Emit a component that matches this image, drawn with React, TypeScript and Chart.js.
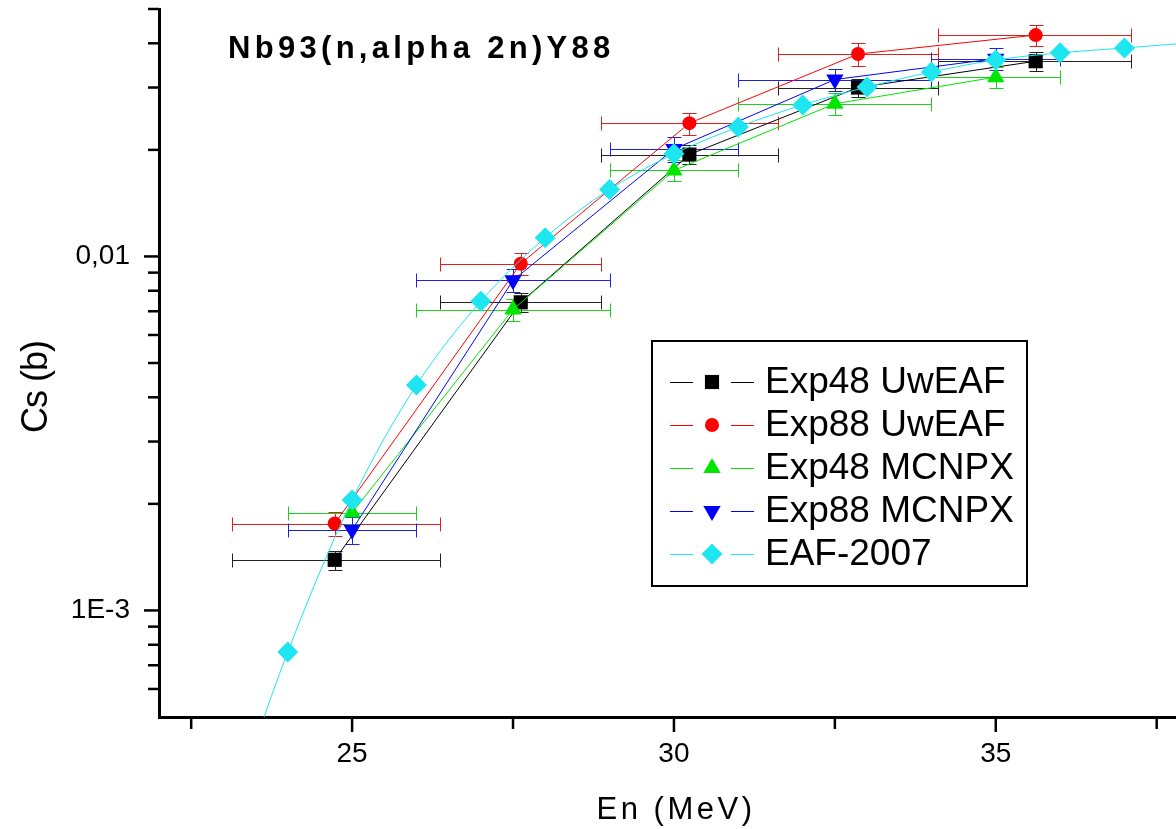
import React, { useEffect, useRef } from 'react';
import { Chart, registerables } from 'chart.js';

Chart.register(...registerables);

const FONT = '"Liberation Sans", Arial, Helvetica, sans-serif';

// ---- text ----
const chartTitle = 'Nb93(n,alpha 2n)Y88';
const xTitle = 'En (MeV)';
const yTitle = 'Cs (b)';
const seriesNames = ['Exp48 UwEAF', 'Exp88 UwEAF', 'Exp48 MCNPX', 'Exp88 MCNPX', 'EAF-2007'];

// ---- axes ----
const xMin = 22;
const xMax = 37.8;
const yMin = 5e-4;
const yMax = 0.05;
const xMajorTicks = [25, 30, 35];
const xMinorTicks = [22.5, 27.5, 32.5, 37.5];
const yMajorTicks = [1e-3, 1e-2];
const yTickLabels = ['1E-3', '0,01'];
const yMinorTicks = [6e-4, 7e-4, 8e-4, 9e-4, 2e-3, 3e-3, 4e-3, 5e-3, 6e-3, 7e-3, 8e-3, 9e-3, 2e-2, 3e-2, 4e-2, 5e-2];

// ---- UwEAF experimental points (energy, energy bin, cross section, error) ----
const uwEnergy = [24.73, 27.62, 30.24, 32.86, 35.62];
const uwEnergyLow = [23.13, 26.37, 28.87, 31.62, 34.1];
const uwEnergyHigh = [26.37, 28.87, 31.62, 34.1, 37.1];
const exp48UwEAF = [1.39e-3, 7.42e-3, 0.0194, 0.0300, 0.0356];
const exp48UwEAFErr = [8.5e-5, 4.5e-4, 1.2e-3, 1.8e-3, 2.1e-3];
const exp88UwEAF = [1.76e-3, 9.54e-3, 0.0238, 0.0373, 0.0422];
const exp88UwEAFErr = [1.35e-4, 7.0e-4, 1.7e-3, 2.7e-3, 3.0e-3];

// ---- MCNPX points ----
const mcEnergy = [25, 27.5, 30, 32.5, 35];
const mcEnergyLow = [24, 26, 29, 31, 34];
const mcEnergyHigh = [26, 29, 31, 34, 36];
const exp48MCNPX = [1.89e-3, 7.08e-3, 0.0175, 0.0270, 0.0321];
const exp48MCNPXErr = [1.3e-4, 5.0e-4, 1.2e-3, 1.9e-3, 2.2e-3];
const exp88MCNPX = [1.69e-3, 8.56e-3, 0.0201, 0.0316, 0.0362];
const exp88MCNPXErr = [1.5e-4, 6.5e-4, 1.6e-3, 2.3e-3, 2.6e-3];

// ---- EAF-2007 evaluation ----
const eafEnergy = [23, 24, 25, 26, 27, 28, 29, 30, 31, 32, 33, 34, 35, 36, 37, 38];
const eaf2007 = [2.33e-4, 7.63e-4, 2.05e-3, 4.33e-3, 7.47e-3, 0.0113, 0.01545, 0.0195, 0.0232, 0.0268, 0.0301, 0.0332, 0.0359, 0.0376, 0.0388, 0.0401];

// ---- styles ----
const colors = ['#000000', '#ff0000', '#00e600', '#0000ff', '#1de6f0'];
const markerStyles = ['rect', 'circle', 'triangle', 'triangleDown', 'rectRot'];
const markerRadii = [10, 7, 10, 10, 10.5];

type ErrSet = { xs: number[]; lo: number[]; hi: number[]; ys: number[]; err: number[]; color: string } | null;

const errorSets: ErrSet[] = [
  { xs: uwEnergy, lo: uwEnergyLow, hi: uwEnergyHigh, ys: exp48UwEAF, err: exp48UwEAFErr, color: '#222222' },
  { xs: uwEnergy, lo: uwEnergyLow, hi: uwEnergyHigh, ys: exp88UwEAF, err: exp88UwEAFErr, color: '#e02020' },
  { xs: mcEnergy, lo: mcEnergyLow, hi: mcEnergyHigh, ys: exp48MCNPX, err: exp48MCNPXErr, color: '#20d020' },
  { xs: mcEnergy, lo: mcEnergyLow, hi: mcEnergyHigh, ys: exp88MCNPX, err: exp88MCNPXErr, color: '#2020e0' },
  null,
];

const toPoints = (xs: number[], ys: number[]) => xs.map((x, i) => ({ x, y: ys[i] }));

function drawMarker(ctx: CanvasRenderingContext2D, style: string, x: number, y: number, r: number, color: string) {
  ctx.fillStyle = color;
  ctx.beginPath();
  const s3 = Math.sqrt(3) / 2;
  if (style === 'rect') {
    const s = r * Math.SQRT1_2;
    ctx.rect(x - s, y - s, 2 * s, 2 * s);
  } else if (style === 'circle') {
    ctx.arc(x, y, r, 0, Math.PI * 2);
  } else if (style === 'triangle') {
    ctx.moveTo(x, y - r);
    ctx.lineTo(x + r * s3, y + r * 0.5);
    ctx.lineTo(x - r * s3, y + r * 0.5);
  } else if (style === 'triangleDown') {
    ctx.moveTo(x, y + r);
    ctx.lineTo(x + r * s3, y - r * 0.5);
    ctx.lineTo(x - r * s3, y - r * 0.5);
  } else {
    ctx.moveTo(x - r, y);
    ctx.lineTo(x, y - r);
    ctx.lineTo(x + r, y);
    ctx.lineTo(x, y + r);
  }
  ctx.closePath();
  ctx.fill();
}

const seg = (ctx: CanvasRenderingContext2D, x1: number, y1: number, x2: number, y2: number) => {
  ctx.beginPath();
  ctx.moveTo(x1, y1);
  ctx.lineTo(x2, y2);
  ctx.stroke();
};

const errorBarPlugin = {
  id: 'errorBars',
  beforeDatasetsDraw(chart: any) {
    const { ctx, chartArea, scales } = chart;
    const xs = scales.x;
    const ys = scales.y;
    ctx.save();
    ctx.beginPath();
    ctx.rect(chartArea.left, chartArea.top, chartArea.right - chartArea.left, chartArea.bottom - chartArea.top);
    ctx.clip();
    ctx.lineWidth = 1;
    errorSets.forEach((e) => {
      if (!e) return;
      ctx.strokeStyle = e.color;
      e.xs.forEach((xv, i) => {
        const px = Math.round(xs.getPixelForValue(xv)) + 0.5;
        const py = Math.round(ys.getPixelForValue(e.ys[i])) + 0.5;
        const xl = Math.round(xs.getPixelForValue(e.lo[i])) + 0.5;
        const xh = Math.round(xs.getPixelForValue(e.hi[i])) + 0.5;
        seg(ctx, xl, py, xh, py);
        seg(ctx, xl, py - 7, xl, py + 7);
        seg(ctx, xh, py - 7, xh, py + 7);
        const yt = Math.round(ys.getPixelForValue(e.ys[i] + e.err[i])) + 0.5;
        const yb = Math.round(ys.getPixelForValue(e.ys[i] - e.err[i])) + 0.5;
        seg(ctx, px, yt, px, yb);
        seg(ctx, px - 7, yt, px + 7, yt);
        seg(ctx, px - 7, yb, px + 7, yb);
      });
    });
    ctx.restore();
  },
};

const decorPlugin = {
  id: 'decor',
  afterDraw(chart: any) {
    const { ctx, chartArea, scales } = chart;
    const xs = scales.x;
    const ys = scales.y;
    ctx.save();
    // tick marks
    ctx.strokeStyle = '#000';
    ctx.lineWidth = 2.5;
    const b = chartArea.bottom;
    const l = chartArea.left;
    xMajorTicks.forEach((v) => { const p = xs.getPixelForValue(v); seg(ctx, p, b, p, b + 15); });
    xMinorTicks.forEach((v) => { const p = xs.getPixelForValue(v); seg(ctx, p, b, p, b + 12); });
    yMajorTicks.forEach((v) => { const p = ys.getPixelForValue(v); seg(ctx, l - 15, p, l, p); });
    yMinorTicks.forEach((v) => { const p = ys.getPixelForValue(v); seg(ctx, l - 11, p, l, p); });

    // title
    ctx.fillStyle = '#000';
    ctx.textAlign = 'left';
    ctx.textBaseline = 'alphabetic';
    ctx.font = `bold 31px ${FONT}`;
    (ctx as any).letterSpacing = '4.3px';
    ctx.fillText(chartTitle, 228, 58);

    // x title
    ctx.font = `31px ${FONT}`;
    (ctx as any).letterSpacing = '3.5px';
    ctx.textAlign = 'center';
    ctx.fillText(xTitle, 676, 819);

    // y title
    ctx.save();
    ctx.translate(47, 387);
    ctx.rotate(-Math.PI / 2);
    ctx.font = `36px ${FONT}`;
    (ctx as any).letterSpacing = '-1px';
    ctx.textAlign = 'center';
    ctx.fillText(yTitle, 0, 0);
    ctx.restore();
    (ctx as any).letterSpacing = '0px';

    // legend
    const bx = 652, by = 341, bw = 375, bh = 245;
    ctx.fillStyle = '#fff';
    ctx.fillRect(bx, by, bw, bh);
    ctx.strokeStyle = '#000';
    ctx.lineWidth = 2;
    ctx.strokeRect(bx, by, bw, bh);
    ctx.font = `37px ${FONT}`;
    ctx.textAlign = 'left';
    ctx.textBaseline = 'middle';
    seriesNames.forEach((name, i) => {
      const ry = 382 + i * 43;
      ctx.strokeStyle = colors[i];
      ctx.lineWidth = 1;
      seg(ctx, 670, Math.round(ry) + 0.5, 693, Math.round(ry) + 0.5);
      seg(ctx, 731, Math.round(ry) + 0.5, 754, Math.round(ry) + 0.5);
      drawMarker(ctx, markerStyles[i], 712, ry, markerRadii[i], colors[i]);
      ctx.fillStyle = '#000';
      ctx.fillText(name, 765, ry + 1);
    });
    ctx.restore();
  },
};

const zeroPadding = (s: any) => {
  s.paddingTop = 0;
  s.paddingBottom = 0;
  s.paddingLeft = 0;
  s.paddingRight = 0;
};

export default function App() {
  const canvasRef = useRef<HTMLCanvasElement | null>(null);

  useEffect(() => {
    if (!canvasRef.current) return;
    const seriesData = [
      toPoints(uwEnergy, exp48UwEAF),
      toPoints(uwEnergy, exp88UwEAF),
      toPoints(mcEnergy, exp48MCNPX),
      toPoints(mcEnergy, exp88MCNPX),
      toPoints(eafEnergy, eaf2007),
    ];
    const datasets = seriesData.map((data, i) => ({
      label: seriesNames[i],
      data,
      showLine: true,
      borderColor: colors[i],
      backgroundColor: colors[i],
      borderWidth: 1,
      pointStyle: markerStyles[i] === 'triangleDown' ? 'triangle' : markerStyles[i],
      rotation: markerStyles[i] === 'triangleDown' ? 180 : 0,
      pointRadius: markerRadii[i],
      pointBorderWidth: 0,
      pointBackgroundColor: colors[i],
      pointBorderColor: colors[i],
      cubicInterpolationMode: i === 4 ? 'monotone' : 'default',
      tension: 0,
      order: 5 - i,
    }));

    const chart = new Chart(canvasRef.current, {
      type: 'scatter',
      data: { datasets: datasets as any },
      options: {
        animation: false,
        responsive: false,
        maintainAspectRatio: false,
        layout: { autoPadding: false, padding: { top: 9, right: 0, left: 0, bottom: 0 } },
        plugins: {
          legend: { display: false },
          tooltip: { enabled: false },
          title: { display: false },
        },
        scales: {
          x: {
            type: 'linear',
            min: xMin,
            max: xMax,
            grid: { display: false, drawTicks: false },
            border: { display: true, color: '#000', width: 3 },
            afterBuildTicks: (s: any) => { s.ticks = xMajorTicks.map((v) => ({ value: v })); },
            afterFit: (s: any) => { s.height = 112; zeroPadding(s); },
            ticks: {
              padding: 20,
              color: '#000',
              autoSkip: false,
              maxRotation: 0,
              font: { family: FONT, size: 28 },
              callback: (v: any) => String(v),
            },
          },
          y: {
            type: 'logarithmic',
            min: yMin,
            max: yMax,
            grid: { display: false, drawTicks: false },
            border: { display: true, color: '#000', width: 3 },
            afterBuildTicks: (s: any) => { s.ticks = yMajorTicks.map((v) => ({ value: v })); },
            afterFit: (s: any) => { s.width = 159; zeroPadding(s); },
            ticks: {
              padding: 29,
              color: '#000',
              autoSkip: false,
              font: { family: FONT, size: 28 },
              callback: (_v: any, idx: number) => yTickLabels[idx],
            },
          },
        },
      },
      plugins: [errorBarPlugin, decorPlugin],
    });
    return () => chart.destroy();
  }, []);

  return (
    <div style={{ position: 'absolute', left: 0, top: 0, width: 1176, height: 829, background: '#fff' }}>
      <canvas ref={canvasRef} width={1176} height={829} style={{ display: 'block', width: 1176, height: 829 }} />
    </div>
  );
}
